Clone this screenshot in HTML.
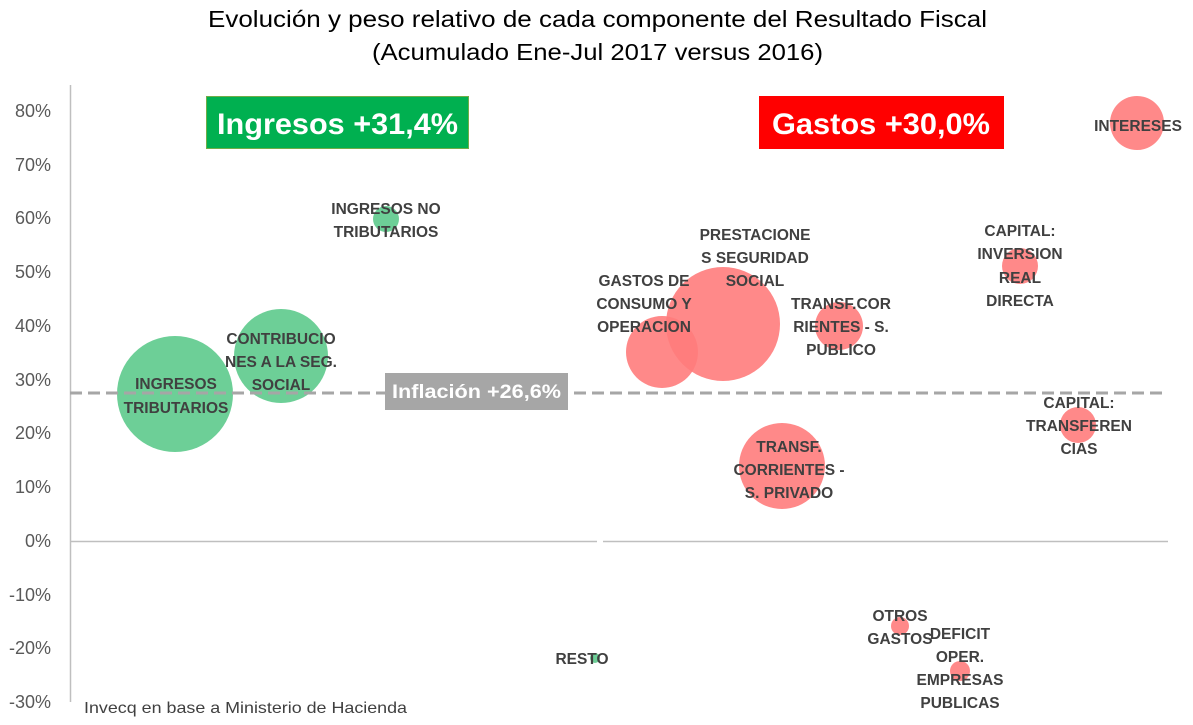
<!DOCTYPE html>
<html><head><meta charset="utf-8"><style>
body{margin:0;background:#fff;}
svg{display:block;font-family:"Liberation Sans",sans-serif;}
.t{font-size:15.5px;font-weight:bold;fill:#404040;text-anchor:middle;}
.y{font-size:18px;fill:#595959;text-anchor:end;}
</style></head><body>
<svg width="1193" height="725" viewBox="0 0 1193 725">
<rect width="1193" height="725" fill="#fff"/>
<text x="208" y="27" font-size="23" fill="#000" textLength="779" lengthAdjust="spacingAndGlyphs">Evolución y peso relativo de cada componente del Resultado Fiscal</text>
<text x="372" y="60" font-size="23" fill="#000" textLength="451" lengthAdjust="spacingAndGlyphs">(Acumulado Ene-Jul 2017 versus 2016)</text>
<line x1="70.5" y1="85" x2="70.5" y2="702" stroke="#bfbfbf" stroke-width="1.5"/>
<line x1="70" y1="541.5" x2="597" y2="541.5" stroke="#bfbfbf" stroke-width="1.5"/>
<line x1="603" y1="541.5" x2="1168" y2="541.5" stroke="#bfbfbf" stroke-width="1.5"/>
<g class="y">
<text x="51" y="117">80%</text><text x="51" y="171">70%</text><text x="51" y="224">60%</text><text x="51" y="278">50%</text><text x="51" y="332">40%</text><text x="51" y="386">30%</text><text x="51" y="439">20%</text><text x="51" y="493">10%</text><text x="51" y="547">0%</text><text x="51" y="601">-10%</text><text x="51" y="654">-20%</text><text x="51" y="708">-30%</text>
</g>
<g fill="#5dca8c" fill-opacity="0.9">
<circle cx="175" cy="394" r="58"/><circle cx="281" cy="356" r="47"/><circle cx="386" cy="219" r="13"/><circle cx="595" cy="658" r="5"/>
</g>
<g fill="#ff7c7c" fill-opacity="0.9">
<circle cx="662" cy="352" r="36"/><circle cx="723" cy="324" r="57"/><circle cx="839" cy="326" r="24"/><circle cx="782" cy="466" r="43"/><circle cx="1020" cy="266" r="18"/><circle cx="1137" cy="123" r="27"/><circle cx="1078" cy="425" r="18"/><circle cx="900" cy="626" r="9"/><circle cx="960" cy="671" r="10"/>
</g>
<line x1="70" y1="393" x2="1168" y2="393" stroke="#a6a6a6" stroke-width="3" stroke-dasharray="12,6"/>
<rect x="385" y="373" width="183" height="37" fill="#a6a6a6"/>
<text x="392" y="398" font-size="19" font-weight="bold" fill="#fff" textLength="169" lengthAdjust="spacingAndGlyphs">Inflación +26,6%</text>
<rect x="206.5" y="96.5" width="262" height="52" fill="#00b050" stroke="#70ad47"/>
<text x="217" y="134" font-size="30" font-weight="bold" fill="#fff" textLength="241" lengthAdjust="spacingAndGlyphs">Ingresos +31,4%</text>
<rect x="759" y="96" width="245" height="53" fill="#ff0000"/>
<text x="772" y="134" font-size="30" font-weight="bold" fill="#fff" textLength="218" lengthAdjust="spacingAndGlyphs">Gastos +30,0%</text>
<g class="t">
<text x="386" y="214">INGRESOS NO</text><text x="386" y="237">TRIBUTARIOS</text>
<text x="176" y="389">INGRESOS</text><text x="176" y="413">TRIBUTARIOS</text>
<text x="281" y="344">CONTRIBUCIO</text><text x="281" y="367">NES A LA SEG.</text><text x="281" y="390">SOCIAL</text>
<text x="582" y="664">RESTO</text>
<text x="644" y="286">GASTOS DE</text><text x="644" y="309">CONSUMO Y</text><text x="644" y="332">OPERACION</text>
<text x="755" y="240">PRESTACIONE</text><text x="755" y="263">S SEGURIDAD</text><text x="755" y="286">SOCIAL</text>
<text x="841" y="309">TRANSF.COR</text><text x="841" y="332">RIENTES - S.</text><text x="841" y="355">PUBLICO</text>
<text x="789" y="452">TRANSF.</text><text x="789" y="475">CORRIENTES -</text><text x="789" y="498">S. PRIVADO</text>
<text x="1020" y="236">CAPITAL:</text><text x="1020" y="259">INVERSION</text><text x="1020" y="283">REAL</text><text x="1020" y="306">DIRECTA</text>
<text x="1138" y="131">INTERESES</text>
<text x="1079" y="408">CAPITAL:</text><text x="1079" y="431">TRANSFEREN</text><text x="1079" y="454">CIAS</text>
<text x="900" y="621">OTROS</text><text x="900" y="644">GASTOS</text>
<text x="960" y="639">DEFICIT</text><text x="960" y="662">OPER.</text><text x="960" y="685">EMPRESAS</text><text x="960" y="708">PUBLICAS</text>
</g>
<text x="84" y="713" font-size="16" fill="#404040" textLength="323" lengthAdjust="spacingAndGlyphs">Invecq en base a Ministerio de Hacienda</text>
</svg>
</body></html>
